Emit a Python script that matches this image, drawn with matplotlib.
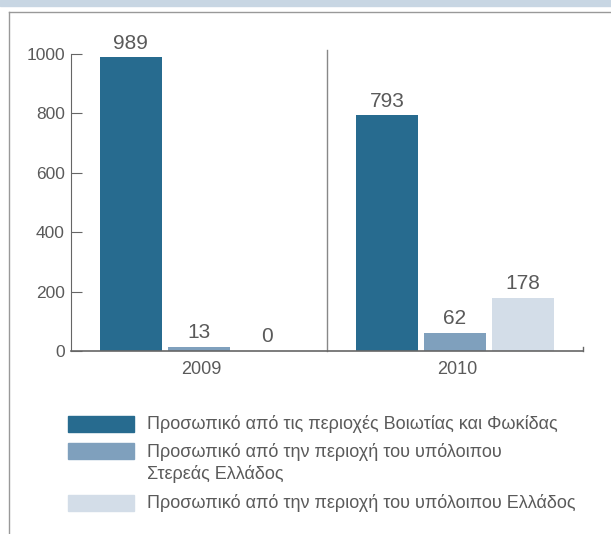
import matplotlib.pyplot as plt
from matplotlib.lines import Line2D
from matplotlib.patches import Rectangle
import numpy as np

years = ['2009', '2010']
series_labels = [
    'Προσωπικό από τις περιοχές Βοιωτίας και Φωκίδας',
    'Προσωπικό από την περιοχή του υπόλοιπου\nΣτερεάς Ελλάδος',
    'Προσωπικό από την περιοχή του υπόλοιπου Ελλάδος',
]
boeotia = [989, 793]
sterea = [13, 62]
rest_greece = [0, 178]
colors = ['#276b8f', '#7fa0bd', '#d3dde8']
text_color = '#5a5a5a'
plt.rcParams['font.family'] = ['Liberation Sans', 'DejaVu Sans']

fig = plt.figure(figsize=(6.11, 5.34), dpi=100)
W, H = 611, 534

# top band and outer frame
fig.patches.append(Rectangle((0, 1 - 6 / H), 1, 6 / H, transform=fig.transFigure,
                             color='#c8d6e3', zorder=0))
fig.lines.append(Line2D([9 / W, 9 / W], [0, 1 - 12 / H], transform=fig.transFigure,
                        color='#999999', lw=1))
fig.lines.append(Line2D([9 / W, 1], [1 - 12 / H, 1 - 12 / H], transform=fig.transFigure,
                        color='#999999', lw=1))

ax = fig.add_axes([71 / W, 1 - 351 / H, 512 / W, 297 / H])
x = np.arange(len(years))
width = 0.242
step = 0.266
for i, vals in enumerate([boeotia, sterea, rest_greece]):
    pos = x + (i - 1) * step
    ax.bar(pos, vals, width, color=colors[i], zorder=2)
    for p, v in zip(pos, vals):
        ax.text(p, v + 16, str(v), ha='center', va='bottom', fontsize=15, color=text_color)

ax.set_xlim(-0.5, 1.5)
ax.set_ylim(0, 1000)
ax.set_yticks(range(0, 1001, 200))
ax.set_xticks(x + 0.01)
ax.set_xticklabels(years)
ax.tick_params(axis='y', direction='in', length=8, colors='#666666', labelcolor=text_color,
               labelsize=12.5, pad=4.5)
ax.tick_params(axis='x', length=0, labelcolor=text_color, labelsize=13, pad=7)
for s in ['top', 'right']:
    ax.spines[s].set_visible(False)
ax.spines['left'].set_color('#666666')
ax.spines['bottom'].set_color('#666666')
ax.spines['bottom'].set_linewidth(1.2)
ax.plot([0.5, 0.5], [0, 1012], color='#888888', lw=1, clip_on=False)
ax.plot([1.5, 1.5], [0, 12], color='#666666', lw=1, clip_on=False)
ax.set_facecolor('none')

# legend
legend_rows = [424, 463, 503]
for lab, col, yc in zip(series_labels, colors, legend_rows):
    top = 443 if '\n' in lab else yc - 8
    fig.patches.append(Rectangle((68 / W, 1 - (top + 16) / H), 66 / W, 16 / H,
                                 transform=fig.transFigure, color=col))
    fig.text(147 / W, 1 - yc / H, lab, ha='left', va='center', fontsize=13,
             color=text_color, linespacing=1.3)

fig.savefig('out.png', dpi=100)
